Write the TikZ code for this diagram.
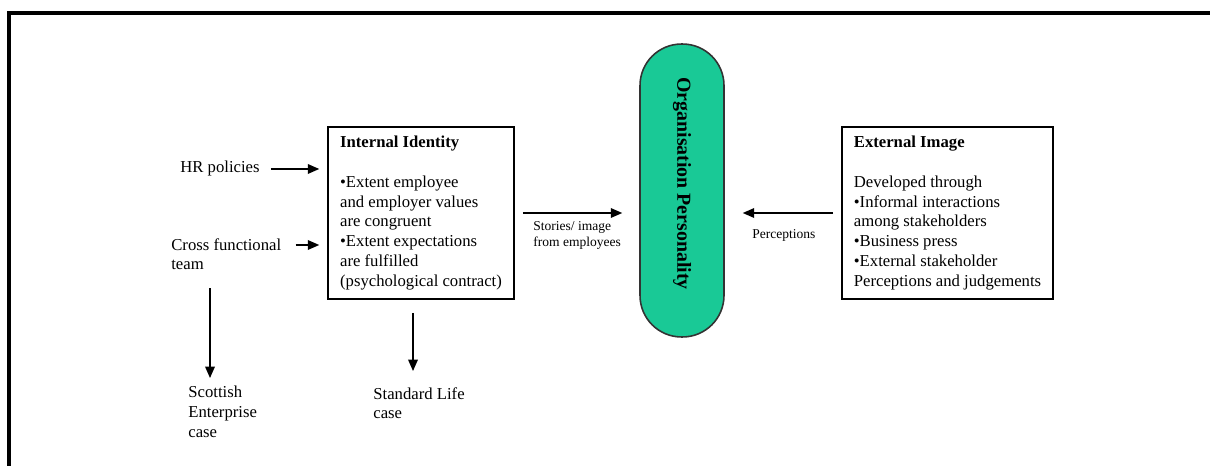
\documentclass[tikz,border=0pt]{standalone}
\usepackage{fontspec}
\setmainfont{Liberation Serif}
\usetikzlibrary{arrows.meta,calc,positioning}
\definecolor{persgreen}{RGB}{25,201,150}
\begin{document}
\begin{tikzpicture}[line join=miter,>={Triangle[length=6.5pt,width=5.5pt]},x=0.02cm,y=-0.02cm]
	\tikzset{txt/.style={inner sep=0pt,align=left,font=\fontsize{9.5}{11.3}\selectfont},
		smalltxt/.style={inner sep=0pt,align=left,font=\fontsize{7.7}{9.1}\selectfont},
		idbox/.style={draw,line width=0.9pt,align=left,inner sep=0pt,minimum height=3.44cm,font=\fontsize{9.5}{11.3}\selectfont},
		arr/.style={->,line width=0.75pt}}
	\useasboundingbox (0,0) rectangle (1210,466);
	\begin{scope}
		\draw[line width=0.08cm] (9,480)--(9,13)--(1220,13);
		\node[idbox,minimum width=3.72cm] (internal) at (421,213) {\textbf{Internal Identity}\\[11.3pt]•Extent employee\\and employer values\\are congruent\\•Extent expectations\\are fulfilled\\(psychological contract)};
		\node[idbox,minimum width=4.22cm] (external) at (947.5,213) {\textbf{External Image}\\[11.3pt]Developed through\\•Informal interactions\\among stakeholders\\•Business press\\•External stakeholder\\Perceptions and judgements};
		\node[draw=black!80,fill=persgreen,line width=0.9pt,minimum width=1.68cm,minimum height=5.86cm,rounded corners=0.83cm,inner sep=0pt] (pers) at (682,190.5) {};
		\node[inner sep=0pt,rotate=-90,font=\fontsize{11.3}{13}\selectfont\bfseries] (perstext) at ($(pers.center)+(0,-7)$) {Organisation Personality};
		\node[txt,anchor=base west] (hr) at (180,173) {HR policies};
		\node[txt,anchor=north west] (cft) at (171,238) {Cross functional\\team};
		\node[txt,anchor=north west] (se) at (188,386) {Scottish\\Enterprise\\case};
		\node[txt,anchor=north west] (sl) at (373,387) {Standard Life\\case};
		\node[smalltxt,anchor=north west] (stories) at (533,221) {Stories/ image\\from employees};
		\node[smalltxt,anchor=north west] (perc) at (752,229) {Perceptions};
		\coordinate (cftout) at ($(cft.north east)+(14,7)$);
		\coordinate (cftdown) at ($(cft.south west)+(39,18)$);
		\coordinate (iddown) at ($(internal.south)+(-8,13)$);
		\draw[arr,shorten <=0.22cm,shorten >=0.16cm] (hr.east)--(hr.east -| internal.west);
		\draw[arr,shorten >=0.16cm] (cftout)--(cftout -| internal.west);
		\draw[arr,shorten >=0.16cm] (cftdown)--(cftdown |- se.north);
		\draw[arr,shorten >=0.32cm] (iddown)--(iddown |- sl.north);
		\draw[arr,shorten <=0.16cm,shorten >=0.34cm] (internal.east)--(internal.east -| pers.west);
		\draw[arr,shorten <=0.16cm,shorten >=0.36cm] (external.west)--(external.west -| pers.east);
	\end{scope}
\end{tikzpicture}
\end{document}
